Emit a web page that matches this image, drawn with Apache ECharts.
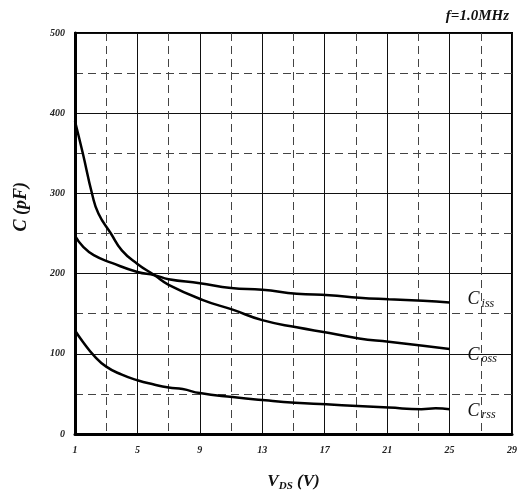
<!DOCTYPE html>
<html>
<head>
<meta charset="utf-8">
<script src="https://cdn.jsdelivr.net/npm/echarts@6/dist/echarts.min.js"></script>
<style>
  html, body { margin: 0; padding: 0; background: #fff; }
  #main { width: 520px; height: 501px; }
</style>
</head>
<body>
<div id="main"></div>
<script>
var chart = echarts.init(document.getElementById('main'));

// VDS (V) / capacitance (pF)
var cissV = [1, 1.5, 2.2, 3.4, 5, 6.1, 7, 9, 11, 13, 15.2, 17.3, 19.2, 21.1, 23.3, 25];
var cissC = [247, 234, 223, 213, 202, 198, 193, 188, 182, 180, 175, 173, 170, 168, 166, 164];

var cossV = [1, 1.5, 2.1, 2.5, 3.3, 4, 5, 6.1, 7, 9.2, 11.1, 13, 15.2, 17.3, 19.2, 21.1, 23.3, 25];
var cossC = [390, 350, 299, 275, 250, 229, 212, 198, 186, 167, 155, 142, 133, 126, 119, 115, 110, 106];

var crssV = [1, 1.5, 2.2, 3, 4, 5, 6, 7, 7.9, 9, 11.1, 13.2, 15.1, 17.1, 19.1, 21.1, 23.2, 24.1, 25];
var crssC = [129, 115, 98, 84, 74, 67, 62, 58, 56, 51, 46, 42, 39, 37, 35, 33, 31, 32, 31];

var xStart = 1;   // axis starts at VDS = 1
var xTicks = [1, 5, 9, 13, 17, 21, 25, 29];
var yTicks = [0, 100, 200, 300, 400, 500];

var serif = '"Liberation Serif", "DejaVu Serif", serif';

function pairs(xs, ys) {
  return xs.map(function (x, i) { return [x - xStart, ys[i]]; });
}

function curve(name, xs, ys, sub, dy) {
  return {
    name: name,
    type: 'line',
    data: pairs(xs, ys),
    smooth: 0.5,
    showSymbol: false,
    silent: true,
    lineStyle: { color: '#000', width: 2.5 },
    endLabel: {
      show: true,
      offset: [10, dy],
      formatter: '{c|C}{s|' + sub + '}',
      rich: {
        c: { fontFamily: serif, fontStyle: 'italic', fontSize: 18, color: '#111', lineHeight: 20 },
        s: { fontFamily: serif, fontStyle: 'italic', fontSize: 12, color: '#111', lineHeight: 20,
             verticalAlign: 'bottom', padding: [0, 0, 0, 2] }
      }
    }
  };
}

var option = {
  animation: false,
  grid: {
    left: 75, right: 5, top: 33, bottom: 67,
    show: true, borderColor: '#000', borderWidth: 2
  },
  title: {
    text: 'f=1.0MHz',
    right: 6, top: 4,
    textStyle: { fontFamily: serif, fontStyle: 'italic', fontWeight: 'bold', fontSize: 15, color: '#111' }
  },
  graphic: [{
    type: 'text',
    left: 12, top: 182,
    rotation: Math.PI / 2,
    style: {
      text: 'C (pF)',
      font: 'italic bold 18px ' + serif,
      fill: '#111'
    }
  }],
  xAxis: {
    type: 'value',
    min: xTicks[0] - xStart,
    max: xTicks[xTicks.length - 1] - xStart,
    interval: 4,
    name: '{v|V}{s|DS}{t| (V)}',
    nameLocation: 'middle',
    nameGap: 38,
    nameTextStyle: {
      rich: {
        v: { fontFamily: serif, fontStyle: 'italic', fontWeight: 'bold', fontSize: 17, color: '#111', lineHeight: 20 },
        s: { fontFamily: serif, fontStyle: 'italic', fontWeight: 'bold', fontSize: 11, color: '#111', lineHeight: 20, verticalAlign: 'bottom' },
        t: { fontFamily: serif, fontStyle: 'italic', fontWeight: 'bold', fontSize: 17, color: '#111', lineHeight: 20 }
      }
    },
    axisLine: { show: true, lineStyle: { color: '#000', width: 3 } },
    axisTick: { show: false },
    axisLabel: {
      margin: 11,
      formatter: function (v) { return String(v + xStart); },
      fontFamily: serif, fontStyle: 'italic', fontWeight: 'bold', fontSize: 10, color: '#222'
    },
    splitLine: { show: true, lineStyle: { color: '#111', width: 1 } },
    minorTick: { show: false, splitNumber: 2 },
    minorSplitLine: { show: true, lineStyle: { color: '#444', width: 1, type: [8, 5] } }
  },
  yAxis: {
    type: 'value',
    min: yTicks[0],
    max: yTicks[yTicks.length - 1],
    interval: 100,
    axisLine: { show: true, lineStyle: { color: '#000', width: 3 } },
    axisTick: { show: false },
    axisLabel: {
      margin: 10,
      fontFamily: serif, fontStyle: 'italic', fontWeight: 'bold', fontSize: 10, color: '#222'
    },
    splitLine: { show: true, lineStyle: { color: '#111', width: 1 } },
    minorTick: { show: false, splitNumber: 2 },
    minorSplitLine: { show: true, lineStyle: { color: '#444', width: 1, type: [8, 5] } }
  },
  series: [
    curve('Ciss', cissV, cissC, 'iss', -3),
    curve('Coss', cossV, cossC, 'oss', 6),
    curve('Crss', crssV, crssC, 'rss', 2)
  ]
};

chart.setOption(option);
</script>
</body>
</html>
